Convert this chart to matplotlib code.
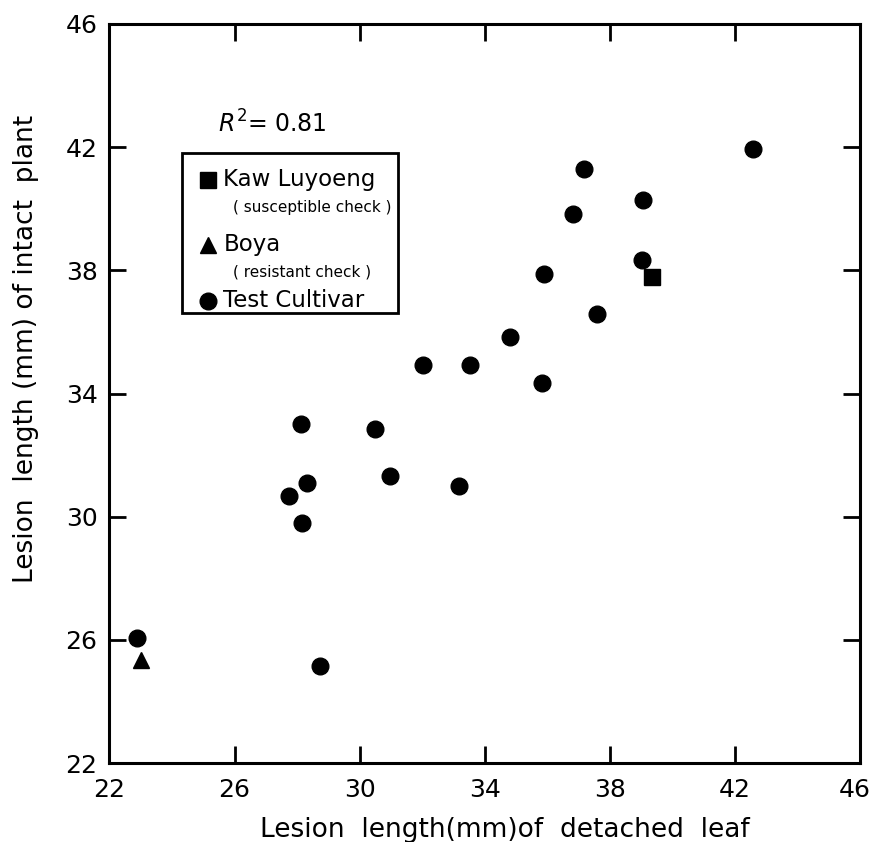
import matplotlib
matplotlib.use('Agg')
import matplotlib.pyplot as plt
from matplotlib.patches import Rectangle
from matplotlib.transforms import ScaledTranslation

# Data
cultivar_x = [42.59, 39.05, 37.19, 36.83, 39.02, 35.89, 37.59, 34.80, 32.03, 33.52,
              35.82, 28.14, 30.49, 30.98, 28.33, 33.19, 27.73, 28.17, 28.73, 22.87]
cultivar_y = [41.95, 40.27, 41.28, 39.83, 38.34, 37.88, 36.57, 35.85, 34.93, 34.93,
              34.35, 33.00, 32.85, 31.32, 31.08, 30.99, 30.67, 29.79, 25.16, 26.05]
kaw_x = [39.34]
kaw_y = [37.79]
boya_x = [23.01]
boya_y = [25.34]

ticks = [22, 26, 30, 34, 38, 42, 46]
r2_text = r'$R^2$= 0.81'

plt.rcParams['font.family'] = ['DejaVu Sans']

fig = plt.figure(figsize=(8.71, 8.42), dpi=100)
ax = fig.add_axes([0.1256, 0.0938, 0.8618, 0.8777])

ax.plot(cultivar_x, cultivar_y, 'o', color='black', markersize=12)
ax.plot(kaw_x, kaw_y, 's', color='black', markersize=11)
ax.plot(boya_x, boya_y, '^', color='black', markersize=12)

ax.set_xlim(22, 46)
ax.set_ylim(22, 46)
ax.set_xticks(ticks)
ax.set_yticks(ticks)
ax.tick_params(direction='in', length=12, width=2, labelsize=18,
               top=True, right=True)
ax.tick_params(axis='x', pad=11)
ax.tick_params(axis='y', pad=8.5)
for sp in ax.spines.values():
    sp.set_linewidth(2.2)

# last x label sits at the very edge of the figure, pull it in a little
last = ax.get_xticklabels()[-1]
last.set_transform(last.get_transform() + ScaledTranslation(-4 / 72, 0, fig.dpi_scale_trans))

# axis titles (off-centre in the original)
fig.text(505 / 871, 1 - 837 / 842, 'Lesion  length(mm)of  detached  leaf',
         fontsize=19, ha='center', va='baseline')
fig.text(33 / 871, 1 - 349 / 842, 'Lesion  length (mm) of intact  plant',
         fontsize=19, rotation=90, rotation_mode='anchor',
         ha='center', va='baseline')

# R squared annotation
ax.text(0.145, 0.865, r2_text, transform=ax.transAxes, fontsize=17,
        va='center', ha='left')

# Hand-made legend box
ax.add_patch(Rectangle((0.0963, 0.609), 0.288, 0.217, transform=ax.transAxes,
                       fill=False, linewidth=2, edgecolor='black'))
legend_rows = [
    ('s', 11, 0.789, 'Kaw Luyoeng', '( susceptible check )', 0.752),
    ('^', 12, 0.701, 'Boya', '( resistant check )', 0.665),
    ('o', 12, 0.6256, 'Test Cultivar', None, None),
]
for mk, ms, y, name, sub, ysub in legend_rows:
    ax.plot([0.1318], [y], mk, color='black', markersize=ms,
            transform=ax.transAxes, clip_on=False)
    ax.text(0.1517, y, name, transform=ax.transAxes, fontsize=16.5,
            va='center', ha='left')
    if sub:
        ax.text(0.164, ysub, sub, transform=ax.transAxes, fontsize=11,
                va='center', ha='left')

fig.savefig('out.png', dpi=100)
